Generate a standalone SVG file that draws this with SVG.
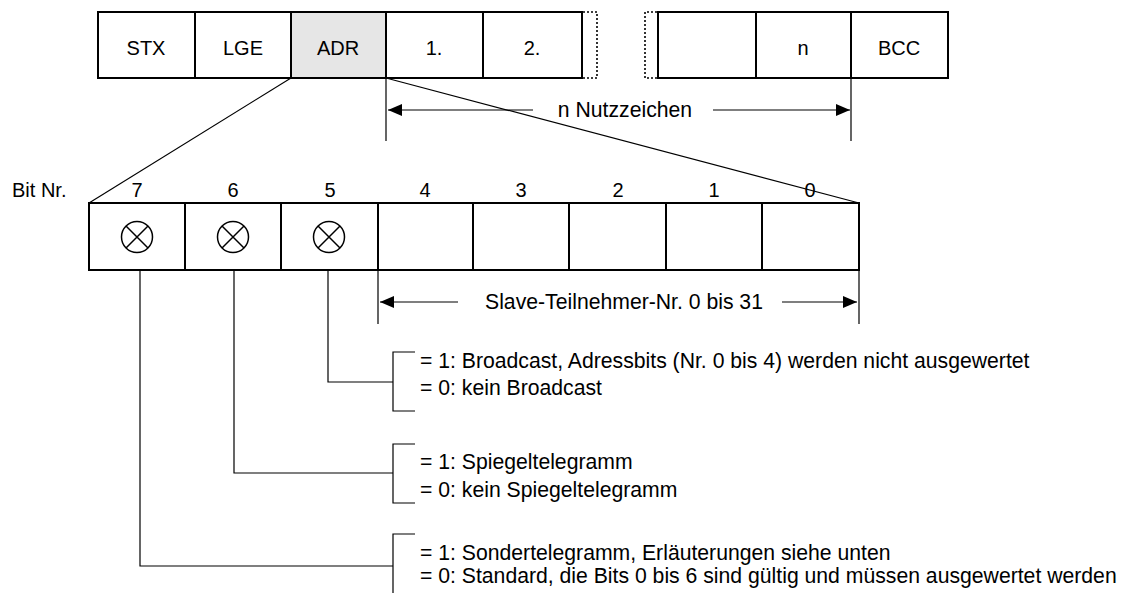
<svg xmlns="http://www.w3.org/2000/svg" width="1121" height="593" viewBox="0 0 1121 593">
<style>
.box{fill:#fff;stroke:#000;stroke-width:2}
.gray{fill:#e6e6e6}
.t{font-family:"Liberation Sans",Arial,sans-serif;font-size:20px;fill:#000}
.tc{text-anchor:middle}
.l{font-size:21.2px}
.ln{fill:none;stroke:#000;stroke-width:1.2}
.dot{fill:none;stroke:#000;stroke-width:1.6;stroke-dasharray:2 2}
.cx{fill:none;stroke:#000;stroke-width:1.5}
</style>
<defs>
<marker id="ah" viewBox="0 0 14 12" refX="14" refY="6" markerWidth="14" markerHeight="12" markerUnits="userSpaceOnUse" orient="auto">
<path d="M0,0 L14,6 L0,12 Z" fill="#000"/>
</marker>
</defs>
<rect width="1121" height="593" fill="#fff"/>
<g id="frame">
<g id="stx"><rect class="box" x="98" y="12" width="97" height="66"/><text class="t tc" x="146" y="55">STX</text></g>
<g id="lge"><rect class="box" x="195" y="12" width="96" height="66"/><text class="t tc" x="243" y="55">LGE</text></g>
<g id="adr"><rect class="box gray" x="291" y="12" width="95" height="66"/><text class="t tc" x="338" y="55">ADR</text></g>
<g id="b1"><rect class="box" x="386" y="12" width="97" height="66"/><text class="t tc" x="434" y="55">1.</text></g>
<g id="b2"><rect class="box" x="483" y="12" width="99" height="66"/><text class="t tc" x="532" y="55">2.</text></g>
<g id="gap"><path class="dot" d="M583,12 H597 V78 H583"/><path class="dot" d="M657,12 H645 V78 H657"/></g>
<g id="bx"><rect class="box" x="658" y="12" width="98" height="66"/></g>
<g id="bn"><rect class="box" x="756" y="12" width="95" height="66"/><text class="t tc" x="803" y="55">n</text></g>
<g id="bcc"><rect class="box" x="851" y="12" width="97" height="66"/><text class="t tc" x="899" y="55">BCC</text></g>
</g>
<g id="bits">
<text class="t" x="12" y="197">Bit Nr.</text>
<g id="bit7"><rect class="box" x="89" y="203" width="96" height="67"/><text class="t tc" x="137" y="197">7</text><circle class="cx" cx="137" cy="237" r="15.5"/><path class="cx" d="M126,226 L148,248 M148,226 L126,248"/></g>
<g id="bit6"><rect class="box" x="185" y="203" width="96" height="67"/><text class="t tc" x="233" y="197">6</text><circle class="cx" cx="233" cy="237" r="15.5"/><path class="cx" d="M222,226 L244,248 M244,226 L222,248"/></g>
<g id="bit5"><rect class="box" x="281" y="203" width="97" height="67"/><text class="t tc" x="330" y="197">5</text><circle class="cx" cx="329" cy="237" r="15.5"/><path class="cx" d="M318,226 L340,248 M340,226 L318,248"/></g>
<g id="bit4"><rect class="box" x="378" y="203" width="95" height="67"/><text class="t tc" x="425" y="197">4</text></g>
<g id="bit3"><rect class="box" x="473" y="203" width="96" height="67"/><text class="t tc" x="521" y="197">3</text></g>
<g id="bit2"><rect class="box" x="569" y="203" width="97" height="67"/><text class="t tc" x="618" y="197">2</text></g>
<g id="bit1"><rect class="box" x="666" y="203" width="96" height="67"/><text class="t tc" x="714" y="197">1</text></g>
<g id="bit0"><rect class="box" x="762" y="203" width="97" height="67"/><text class="t tc" x="810" y="197">0</text></g>
</g>
<g id="connectors">
<path class="ln" d="M291,78 L89,203"/>
<path class="ln" d="M386,78 L859,203"/>
<path class="ln" d="M386,78 V141 M851,78 V141"/>
<path class="ln" d="M533,110 H388" marker-end="url(#ah)"/>
<path class="ln" d="M713,110 H850" marker-end="url(#ah)"/>
<path class="ln" d="M378,270 V324 M859,270 V324"/>
<path class="ln" d="M458,302 H380" marker-end="url(#ah)"/>
<path class="ln" d="M782,302 H857" marker-end="url(#ah)"/>
<path class="ln" d="M328,270 V382 H393"/>
<path class="ln" d="M415,352 H393 V411 H415"/>
<path class="ln" d="M234,270 V473 H393"/>
<path class="ln" d="M415,444 H393 V503 H415"/>
<path class="ln" d="M140,270 V566 H393"/>
<path class="ln" d="M415,534 H393 V593"/>
</g>
<g id="labels">
<text class="t l tc" x="625" y="117">n Nutzzeichen</text>
<text class="t l tc" x="624" y="309">Slave-Teilnehmer-Nr. 0 bis 31</text>
<text class="t l" x="420" y="368">= 1: Broadcast, Adressbits (Nr. 0 bis 4) werden nicht ausgewertet</text>
<text class="t l" x="420" y="395">= 0: kein Broadcast</text>
<text class="t l" x="420" y="469">= 1: Spiegeltelegramm</text>
<text class="t l" x="420" y="497">= 0: kein Spiegeltelegramm</text>
<text class="t l" x="420" y="560">= 1: Sondertelegramm, Erläuterungen siehe unten</text>
<text class="t l" x="420" y="583">= 0: Standard, die Bits 0 bis 6 sind gültig und müssen ausgewertet werden</text>
</g>
</svg>
